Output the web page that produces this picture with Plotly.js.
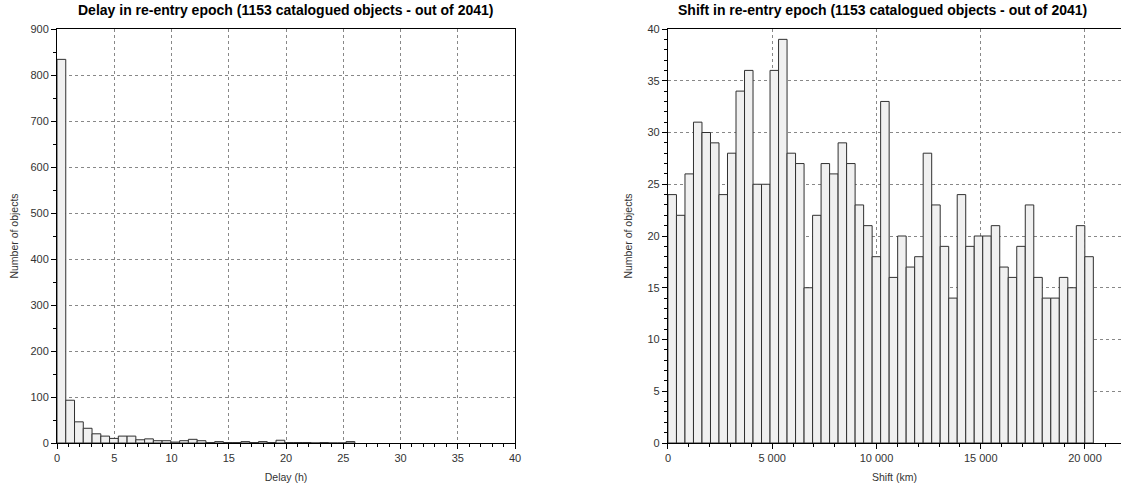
<!DOCTYPE html>
<html>
<head>
<meta charset="utf-8">
<script src="https://cdn.plot.ly/plotly-3.0.1.min.js"></script>
<style>html,body{margin:0;padding:0;background:#fff;}#chart{width:1121px;height:488px;}</style>
</head>
<body>
<div id="chart"></div>
<script>
// ---- Data ----
var delayTitle = "Delay in re-entry epoch (1153 catalogued objects - out of 2041)";
var shiftTitle = "Shift in re-entry epoch (1153 catalogued objects - out of 2041)";
var delayBinWidth = 0.765;   // hours
var delayCounts = [834, 93, 46, 32, 20, 15, 10, 15, 15, 7, 9, 5, 5, 2, 5, 8, 5, 1, 3, 1, 1, 3, 1, 3, 1, 6, 1, 1, 1, 0, 1, 0, 0, 3];
var shiftBinWidth = 408;     // km
var shiftCounts = [24, 22, 26, 31, 30, 29, 24, 28, 34, 36, 25, 25, 36, 39, 28, 27, 15, 22, 27, 26,
                   29, 27, 23, 21, 18, 33, 16, 20, 17, 18, 28, 23, 19, 14, 24, 19, 20, 20, 21, 17,
                   16, 19, 23, 16, 14, 14, 16, 15, 21, 18];
var delayTicks = [0, 5, 10, 15, 20, 25, 30, 35, 40];
var shiftTicks = [0, 5000, 10000, 15000, 20000];

function centers(counts, w) { return counts.map(function (_, i) { return (i + 0.5) * w; }); }

var barStyle = { color: '#f0f0f0', line: { color: '#303030', width: 1 } };

var traces = [
  { type: 'bar', x: centers(delayCounts, delayBinWidth), y: delayCounts, width: delayBinWidth,
    marker: barStyle, xaxis: 'x', yaxis: 'y', hoverinfo: 'x+y' },
  { type: 'bar', x: centers(shiftCounts, shiftBinWidth), y: shiftCounts, width: shiftBinWidth,
    marker: barStyle, xaxis: 'x2', yaxis: 'y2', hoverinfo: 'x+y' }
];

var tickFont = { family: 'Liberation Sans, Arial, sans-serif', size: 11, color: '#333' };
var titleFont = { family: 'Liberation Sans, Arial, sans-serif', size: 10.5, color: '#333' };
function axisBase() {
  return {
    showline: true, linecolor: '#000', linewidth: 1, mirror: true,
    ticks: 'outside', ticklen: 5, tickcolor: '#000', tickwidth: 1,
    showgrid: true, gridcolor: '#888', griddash: 'dot', gridwidth: 1,
    zeroline: false, tickfont: tickFont, fixedrange: true
  };
}

var xa = Object.assign(axisBase(), { domain: [0, 0.4305], range: [0, 40], tickvals: delayTicks,
  minor: { dtick: 1, ticklen: 3, tickcolor: '#000', ticks: 'outside', showgrid: false },
  title: { text: 'Delay (h)', font: titleFont, standoff: 10 }, anchor: 'y' });
var ya = Object.assign(axisBase(), { range: [0, 900], dtick: 100,
  minor: { dtick: 50, ticklen: 3, tickcolor: '#000', ticks: 'outside', showgrid: false },
  title: { text: 'Number of objects', font: titleFont, standoff: 9 }, anchor: 'x' });
var xa2 = Object.assign(axisBase(), { domain: [0.5742, 1], range: [0, 21727], tickvals: shiftTicks,
  tickformat: ',d', separatethousands: true,
  minor: { dtick: 1000, ticklen: 3, tickcolor: '#000', ticks: 'outside', showgrid: false },
  title: { text: 'Shift (km)', font: titleFont, standoff: 10 }, anchor: 'y2' });
var ya2 = Object.assign(axisBase(), { range: [0, 40], dtick: 5,
  minor: { dtick: 1, ticklen: 3, tickcolor: '#000', ticks: 'outside', showgrid: false },
  title: { text: 'Number of objects', font: titleFont, standoff: 12 }, anchor: 'x2' });

var boldFont = { family: 'Liberation Sans, Arial, sans-serif', size: 14, color: '#000' };
var layout = {
  width: 1121, height: 488,
  margin: { l: 57, r: 0, t: 29, b: 45 },
  paper_bgcolor: '#fff', plot_bgcolor: '#fff',
  showlegend: false, bargap: 0,
  separators: '. ',
  xaxis: xa, yaxis: ya, xaxis2: xa2, yaxis2: ya2,
  annotations: [
    { text: '<b>' + delayTitle + '</b>', xref: 'paper', yref: 'paper', x: 0.2152, y: 1, yshift: 19,
      xanchor: 'center', yanchor: 'middle', showarrow: false, font: boldFont },
    { text: '<b>' + shiftTitle + '</b>', xref: 'paper', yref: 'paper', x: 0.7754, y: 1, yshift: 19,
      xanchor: 'center', yanchor: 'middle', showarrow: false, font: boldFont }
  ]
};

Plotly.newPlot('chart', traces, layout, { displayModeBar: false, staticPlot: true });
</script>
</body>
</html>
